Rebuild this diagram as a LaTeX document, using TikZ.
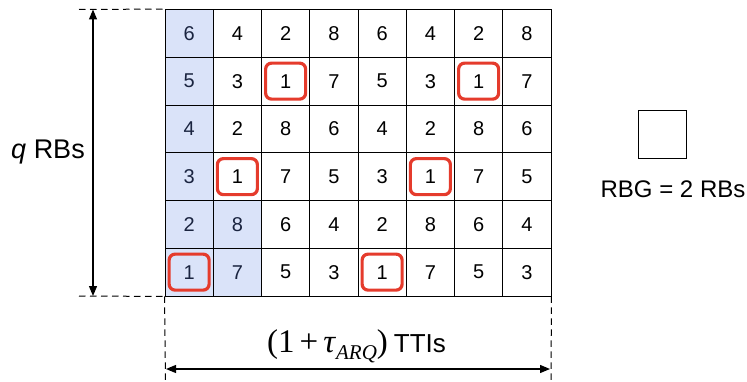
\documentclass[tikz,border=0pt]{standalone}
\usepackage{fontspec}
\setmainfont{Liberation Sans}
\newfontfamily\timesf{Liberation Serif}
\usetikzlibrary{arrows.meta}
\definecolor{cellblue}{HTML}{DAE3F9}
\definecolor{navy}{HTML}{1A2440}
\definecolor{redbox}{HTML}{E53B2C}
\tikzset{
  cell/.style={draw=black, line width=0.9pt, minimum width=48.25pt, minimum height=47.75pt, inner sep=0pt, font=\fontsize{20}{24}\selectfont},
  bluecell/.style={cell, fill=cellblue, text=navy},
  hl/.style={draw=redbox, line width=3.2pt, rounded corners=6pt, minimum width=40pt, minimum height=36pt, inner sep=0pt},
  dimline/.style={dashed, dash pattern=on 6.5pt off 4.5pt, line width=1pt},
  dimarrow/.style={line width=1.2pt, {Triangle[length=10pt,width=8pt]}-{Triangle[length=10pt,width=8pt]}},
  lbl/.style={inner sep=0pt}
}
\begin{document}
\begin{tikzpicture}[x=1pt,y=-1pt]
\useasboundingbox (0,0) rectangle (747,382);
% grid
\foreach \row/\vals in {1/{6,4,2,8,6,4,2,8},2/{5,3,1,7,5,3,1,7},3/{4,2,8,6,4,2,8,6},4/{3,1,7,5,3,1,7,5},5/{2,8,6,4,2,8,6,4},6/{1,7,5,3,1,7,5,3}}{
  \foreach \v [count=\col] in \vals {
    \pgfmathsetmacro{\cx}{165+48.25*(\col-0.5)}
    \pgfmathsetmacro{\cy}{9.5+47.75*(\row-0.5)}
    \pgfmathparse{(\col==1 || (\col==2 && \row>4)) ? 1 : 0}
    \ifnum\pgfmathresult=1
      \node[bluecell] (c-\row-\col) at (\cx,\cy) {\v};
    \else
      \node[cell] (c-\row-\col) at (\cx,\cy) {\v};
    \fi
  }
}
% highlighted cells
\foreach \r/\c in {2/3,2/7,4/2,4/6,6/1,6/5}{
  \node[hl] (h-\r-\c) at (c-\r-\c) {};
}
% left dimension
\coordinate (lt) at (79,9.5);
\coordinate (lb) at (79,296);
\draw[dimline] (lt) -- (c-1-1.north west);
\draw[dimline] (lb) -- (c-6-1.south west);
\coordinate (at) at (93,9.5);
\coordinate (ab) at (93,296);
\draw[dimarrow] (at) -- (ab);
\node[lbl, font=\fontsize{27}{30}\selectfont] (qlbl) at (48,152) {\textit{q} RBs};
% bottom dimension
\coordinate (bl) at (165.5,382);
\coordinate (br) at (551,382);
\draw[dimline] (c-6-1.south west) -- (bl);
\draw[dimline] (c-6-8.south east) -- (br);
\coordinate (al) at (166,369);
\coordinate (ar) at (550,369);
\draw[dimarrow] (al) -- (ar);
\node[lbl, anchor=base west] (tlbl) at (267,352) {{\timesf\fontsize{33}{36}\selectfont(1\kern5pt+\kern5pt\textit{τ}\raisebox{-7pt}{\fontsize{21}{24}\selectfont\textit{ARQ}})}\kern6pt{\fontsize{26}{30}\selectfont TTIs}};
% legend
\node[draw=black, line width=1pt, minimum width=48pt, minimum height=48pt, inner sep=0pt] (leg) at (662.5,135) {};
\node[lbl, font=\fontsize{24}{28}\selectfont] (leglbl) at (673,189) {RBG = 2 RBs};
\end{tikzpicture}
\end{document}
